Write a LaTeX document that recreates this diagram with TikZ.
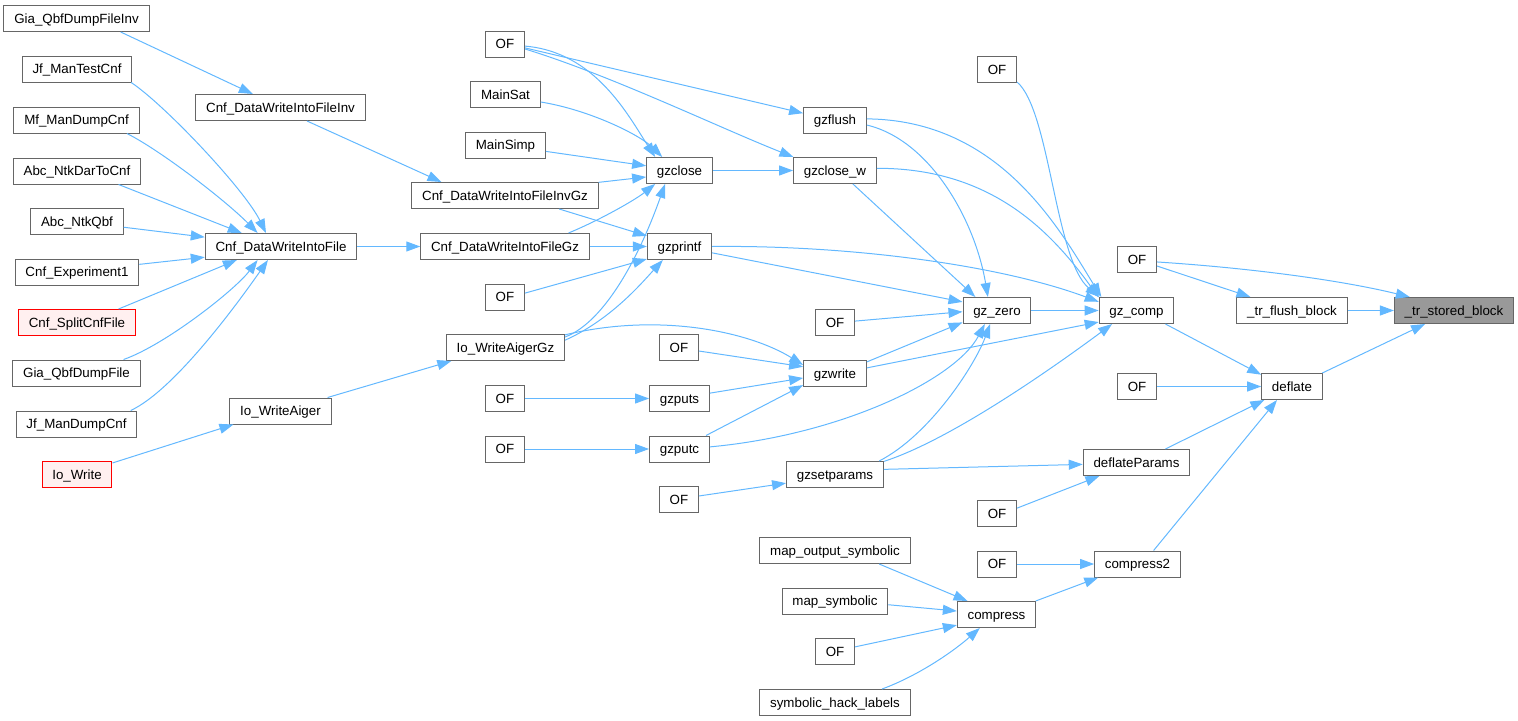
\documentclass[tikz,border=0pt]{standalone}
\usepackage{fontspec}
\setmainfont{Liberation Sans}
\usepackage{tikz}
\usetikzlibrary{arrows.meta}
\definecolor{edgeblue}{HTML}{63B8FF}
\definecolor{boxgray}{HTML}{666666}
\definecolor{boxred}{HTML}{FF0000}
\definecolor{redfill}{HTML}{FFF0F0}
\definecolor{selfill}{HTML}{999999}
\tikzset{
 fn/.style={draw=boxgray, fill=white, line width=0.75pt, rectangle, minimum height=19.5pt, inner xsep=7.7pt, text height=7.9pt, text depth=0.8pt, font=\fontsize{10}{12}\selectfont},
 fnred/.style={fn, draw=boxred, fill=redfill},
 fnsel/.style={fn, fill=selfill},
 call/.style={edgeblue, line width=0.75pt, -{Triangle[length=10.5pt,width=7.5pt]}},
}

\begin{document}
\begin{tikzpicture}[x=0.75pt,y=-0.75pt]
\useasboundingbox (0,0) rectangle (1518,721);
% callers, outer column
\node[fn] (GiaInv) at (76.5,18.5) {Gia\_QbfDumpFileInv};
\node[fn] (JfTest) at (77,69) {Jf\_ManTestCnf};
\node[fn] (MfDump) at (76.5,120) {Mf\_ManDumpCnf};
\node[fn] (AbcDar) at (77,171) {Abc\_NtkDarToCnf};
\node[fn] (AbcQbf) at (77,221.5) {Abc\_NtkQbf};
\node[fn] (CnfExp) at (77,272) {Cnf\_Experiment1};
\node[fnred] (CnfSplit) at (77,322.5) {Cnf\_SplitCnfFile};
\node[fn] (GiaDump) at (76.5,373) {Gia\_QbfDumpFile};
\node[fn] (JfDump) at (76.5,424) {Jf\_ManDumpCnf};
\node[fnred] (IoWrite) at (77,474.5) {Io\_Write};
\node[fn] (CnfInv) at (280.5,107.5) {Cnf\_DataWriteIntoFileInv};
\node[fn] (CnfFile) at (281,246.5) {Cnf\_DataWriteIntoFile};
\node[fn] (IoAiger) at (280.5,411) {Io\_WriteAiger};
\node[fn] (of1) at (505,44) {OF};
\node[fn] (MainSat) at (505.5,94.5) {MainSat};
\node[fn] (MainSimp) at (505.5,145) {MainSimp};
\node[fn] (CnfInvGz) at (505,195.5) {Cnf\_DataWriteIntoFileInvGz};
\node[fn] (CnfFileGz) at (505,246.5) {Cnf\_DataWriteIntoFileGz};
\node[fn] (of2) at (505,297) {OF};
\node[fn] (IoAigerGz) at (505.5,347.5) {Io\_WriteAigerGz};
\node[fn] (of3) at (505,398.5) {OF};
\node[fn] (of4) at (505,449) {OF};
% gz layer
\node[fn] (gzclose) at (679.5,170.5) {gzclose};
\node[fn] (gzprintf) at (679.5,246.5) {gzprintf};
\node[fn] (of5) at (679,347.5) {OF};
\node[fn] (gzputs) at (679.5,398.5) {gzputs};
\node[fn] (gzputc) at (679.5,449) {gzputc};
\node[fn] (of6) at (679,499.5) {OF};
\node[fn] (gzflush) at (835,120) {gzflush};
\node[fn] (gzclosew) at (835,170.5) {gzclose\_w};
\node[fn] (of7) at (835,322.5) {OF};
\node[fn] (gzwrite) at (835,373.5) {gzwrite};
\node[fn] (gzsetparams) at (835,474.5) {gzsetparams};
\node[fn] (mapout) at (835,550.5) {map\_output\_symbolic};
\node[fn] (mapsym) at (835,601) {map\_symbolic};
\node[fn] (of8) at (835,651.5) {OF};
\node[fn] (symhack) at (835,702.5) {symbolic\_hack\_labels};
\node[fn] (of9) at (997,69.5) {OF};
\node[fn] (gzzero) at (997,310.5) {gz\_zero};
\node[fn] (of10) at (997,513.5) {OF};
\node[fn] (of11) at (997,564) {OF};
\node[fn] (compress) at (996.5,614.5) {compress};
% deflate layer
\node[fn] (of12) at (1137,259.5) {OF};
\node[fn] (gzcomp) at (1136.5,310.5) {gz\_comp};
\node[fn] (of13) at (1137,386.5) {OF};
\node[fn] (deflateParams) at (1136.5,462.5) {deflateParams};
\node[fn] (compress2) at (1137.5,564) {compress2};
\node[fn] (trflush) at (1292,310.5) {\_tr\_flush\_block};
\node[fn] (deflate) at (1292,386.5) {deflate};
\node[fnsel] (trstored) at (1454,310.5) {\_tr\_stored\_block};

\foreach \s/\t in {GiaInv.343/CnfInv.154, AbcDar.342/CnfFile.161, AbcQbf.353/CnfFile.173,
 CnfExp.7/CnfFile.188, CnfSplit.18/CnfFile.197, IoWrite.18/IoAiger.196,
 CnfInv.333/CnfInvGz.168, CnfFile.east/CnfFileGz.west, IoAiger.16/IoAigerGz.194,
 of1.349/gzflush.168, MainSimp.351/gzclose.172, CnfInvGz.8/gzclose.191,
 CnfInvGz.346/gzprintf.162, CnfFileGz.east/gzprintf.west, of2.11/gzprintf.201,
 of3.east/gzputs.west, of4.east/gzputc.west, gzclose.east/gzclosew.west,
 gzclosew.323/gzzero.148, gzprintf.349/gzzero.166, of5.350/gzwrite.168,
 gzputs.10/gzwrite.188, gzputc.27/gzwrite.200, of6.10/gzsetparams.190,
 of7.4/gzzero.182, gzwrite.20/gzzero.199, gzwrite.10/gzcomp.197,
 gzsetparams.6/deflateParams.182, gzzero.east/gzcomp.west, of10.15/deflateParams.200,
 mapout.343/compress.155, mapsym.356/compress.175, of8.13/compress.195,
 of11.east/compress2.west, compress.19/compress2.199, gzcomp.335/deflate.159,
 of13.east/deflate.west, deflateParams.25/deflate.206, compress2.40/deflate.222,
 of12.342/trflush.162, trflush.east/trstored.west, deflate.24/trstored.205} {
 \draw[call] (\s) -- (\t);
};

\draw[call] (JfTest.346) .. controls (165,105) and (245,190) .. (CnfFile.138);
\draw[call] (MfDump.345) .. controls (160,150) and (225,200) .. (CnfFile.150);
\draw[call] (GiaDump.16) .. controls (165,345) and (235,290) .. (CnfFile.210);
\draw[call] (JfDump.14) .. controls (175,390) and (240,300) .. (CnfFile.226);
\draw[call] (of1.354) .. controls (595,52) and (628,115) .. (gzclose.151);
\draw[call] (of1.346) .. controls (610,75) and (720,128) .. (gzclosew.162);
\draw[call] (MainSat.348) .. controls (590,110) and (640,135) .. (gzclose.142);
\draw[call] (CnfFileGz.12) .. controls (600,220) and (635,200) .. (gzclose.209);
\draw[call] (IoAigerGz.10) .. controls (605,322) and (640,255) .. (gzclose.223);
\draw[call] (IoAigerGz.7) .. controls (610,320) and (640,285) .. (gzprintf.219);
\draw[call] (IoAigerGz.12) .. controls (660,312) and (750,332) .. (gzwrite.165);
\draw[call] (gzflush.351) .. controls (930,140) and (975,220) .. (gzzero.124);
\draw[call] (gzflush.2) .. controls (1000,120) and (1060,230) .. (gzcomp.159);
\draw[call] (gzclosew.3) .. controls (990,168) and (1050,230) .. (gzcomp.161);
\draw[call] (of9.328) .. controls (1050,110) and (1055,260) .. (gzcomp.160);
\draw[call] (gzprintf.east) .. controls (850,245) and (1000,265) .. (gzcomp.167);
\draw[call] (gzputc.4) .. controls (840,435) and (955,380) .. (gzzero.228);
\draw[call] (gzsetparams.17) .. controls (930,435) and (975,365) .. (gzzero.243);
\draw[call] (gzsetparams.15) .. controls (950,440) and (1050,370) .. (gzcomp.209);
\draw[call] (symhack.16) .. controls (920,675) and (955,650) .. (compress.219);
\draw[call] (of12.353) .. controls (1250,268) and (1340,280) .. (trstored.163);
\end{tikzpicture}
\end{document}
